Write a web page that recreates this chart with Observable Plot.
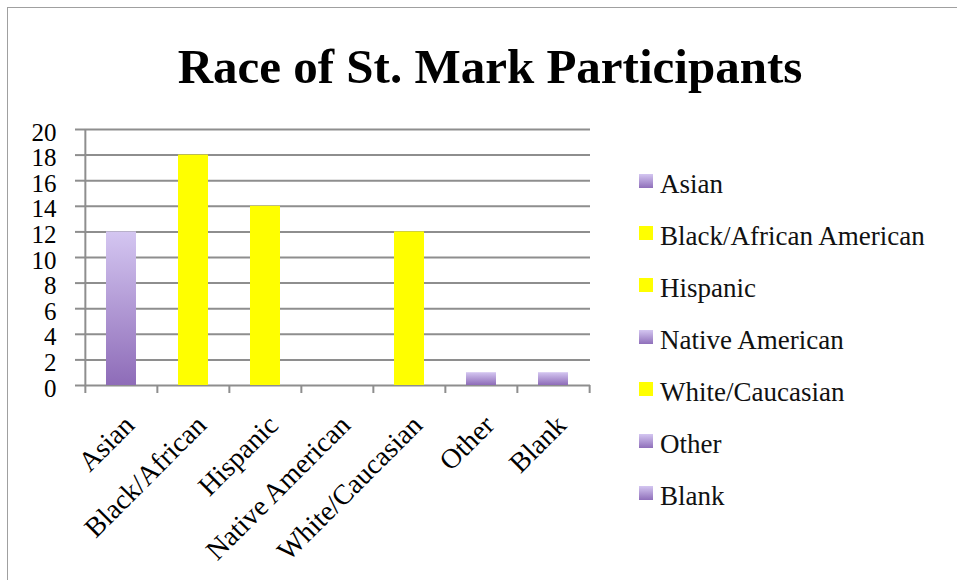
<!DOCTYPE html>
<html>
<head>
<meta charset="utf-8">
<script src="https://cdn.jsdelivr.net/npm/d3@7"></script>
<script src="https://cdn.jsdelivr.net/npm/@observablehq/plot@0.6"></script>
<style>
  body { margin: 0; background: #fff; }
  #wrap { position: relative; width: 957px; height: 580px; overflow: hidden; background: #fff; }
  #border { position: absolute; left: 7px; top: 7px; width: 1000px; height: 1000px;
            border-left: 1px solid #a0a0a0; border-top: 1px solid #a0a0a0; }
  #chart { position: absolute; left: 0; top: 0; }
  #title { position: absolute; left: 0; width: 980px; top: 42px; text-align: center;
           font: bold 49px/49px "Liberation Serif", serif; color: #000; white-space: nowrap; }
  .lg-sw { position: absolute; left: 639px; width: 14px; height: 14px; }
  .lg-tx { position: absolute; left: 660px; font: 27px/27px "Liberation Serif", serif; color: #111; white-space: nowrap; }
</style>
</head>
<body>
<div id="wrap">
  <div id="border"></div>
  <div id="chart"></div>
  <div id="title"></div>
  <div id="legend"></div>
</div>
<script>
const titleText = "Race of St. Mark Participants";
const categories = ["Asian", "Black/African", "Hispanic", "Native American", "White/Caucasian", "Other", "Blank"];
const legendLabels = ["Asian", "Black/African American", "Hispanic", "Native American", "White/Caucasian", "Other", "Blank"];
const values = [12, 18, 14, 0, 12, 1, 1];
const colorGroups = ["purple", "yellow", "yellow", "purple", "yellow", "purple", "purple"];
const yTicks = [0, 2, 4, 6, 8, 10, 12, 14, 16, 18, 20];

const fills = { purple: "url(#purpleGrad)", yellow: "#ffff00" };
const cssFills = { purple: "linear-gradient(#d4c6f1, #8f6fba)", yellow: "#ffff00" };

const data = categories.map((c, i) => ({ cat: c, value: values[i], group: colorGroups[i] }));

document.getElementById("title").textContent = titleText;

const W = 957, H = 580, mL = 84, mR = 367, mT = 129, mB = 195;
const step = (W - mL - mR) / categories.length;
const gridColor = "#8e8e8e";

function gradientDefs() {
  const defs = d3.create("svg:defs");
  const g = defs.append("linearGradient").attr("id", "purpleGrad")
    .attr("x1", 0).attr("y1", 0).attr("x2", 0).attr("y2", 1);
  g.append("stop").attr("offset", "0%").attr("stop-color", "#d4c6f1");
  g.append("stop").attr("offset", "100%").attr("stop-color", "#8e6cb8");
  return defs.node();
}

const chart = Plot.plot({
  width: W, height: H,
  marginLeft: mL, marginRight: mR, marginTop: mT, marginBottom: mB,
  style: { fontFamily: "'Liberation Serif', serif", fontSize: "25px", color: "#000", background: "transparent", overflow: "visible" },
  x: { domain: categories, padding: 0, label: null },
  y: { domain: [0, 20], label: null },
  color: { type: "identity" },
  marks: [
    gradientDefs,
    Plot.gridY(yTicks, { stroke: gridColor, strokeOpacity: 1, strokeWidth: 2 }),
    Plot.axisY(yTicks, { tickSize: 9, tickFormat: () => "", stroke: gridColor, strokeWidth: 2, label: null }),
    Plot.axisY(yTicks, { tickSize: 0, tickPadding: 28, dy: 3, fill: "#000", fontSize: 25, label: null }),
    Plot.ruleX([categories[0]], { dx: -step / 2, stroke: gridColor, strokeWidth: 2 }),
    Plot.barY(data, { x: "cat", y: "value", fill: d => fills[d.group], insetLeft: 21, insetRight: 21, filter: d => d.value > 0 }),
    Plot.axisX(categories, { tickSize: 8, tickFormat: () => "", dx: -step / 2, stroke: gridColor, strokeWidth: 2, label: null }),
    Plot.axisX([categories[categories.length - 1]], { tickSize: 8, tickFormat: () => "", dx: step / 2, stroke: gridColor, strokeWidth: 2, label: null }),
    Plot.axisX(categories, { tickSize: 0, tickPadding: 35, dx: 8, tickRotate: -45, fill: "#000", fontSize: 28, label: null })
  ]
});
document.getElementById("chart").appendChild(chart);

const legend = document.getElementById("legend");
const baseline0 = 193, rowGap = 52;
legendLabels.forEach((lab, i) => {
  const base = baseline0 + i * rowGap;
  const sw = document.createElement("div");
  sw.className = "lg-sw";
  sw.style.top = (base - 19) + "px";
  sw.style.background = cssFills[colorGroups[i]];
  legend.appendChild(sw);
  const tx = document.createElement("div");
  tx.className = "lg-tx";
  tx.style.top = (base - 22) + "px";
  tx.textContent = lab;
  legend.appendChild(tx);
});
</script>
</body>
</html>
